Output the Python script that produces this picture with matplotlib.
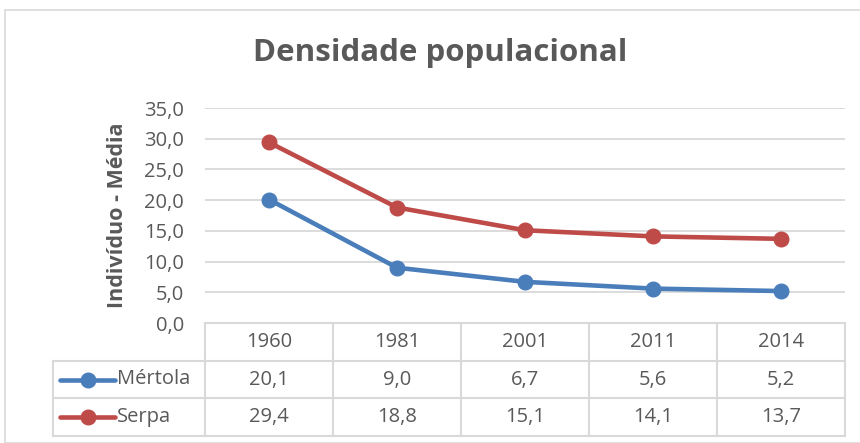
import matplotlib.pyplot as plt
from matplotlib.patches import Rectangle

plt.rcParams['font.family'] = ['Open Sans', 'DejaVu Sans']

years = ["1960", "1981", "2001", "2011", "2014"]
mertola = [20.1, 9.0, 6.7, 5.6, 5.2]
serpa = [29.4, 18.8, 15.1, 14.1, 13.7]
series = [("Mértola", mertola, "#4a7ebb"), ("Serpa", serpa, "#be4b48")]

W, H = 860, 443
grid_c = "#d9d9d9"
txt_c = "#595959"
fs = 14.5

fig = plt.figure(figsize=(W / 100, H / 100), dpi=100)

# outer chart border
fig.patches.append(Rectangle((5 / W, 0), 1, 1 - 10 / H, transform=fig.transFigure,
                             fill=False, edgecolor=grid_c, lw=1.2))

def fbox(x0, y0, x1, y1):
    return [x0 / W, 1 - y1 / H, (x1 - x0) / W, (y1 - y0) / H]

ax = fig.add_axes(fbox(205, 108, 845, 323))
x = list(range(len(years)))
for name, vals, col in series:
    ax.plot(x, vals, color=col, lw=3.3, marker="o", ms=10.5, solid_capstyle="round")
ax.set_xlim(-0.5, len(years) - 0.5)
ax.set_ylim(0, 35)
ax.set_yticks(range(0, 36, 5))
ax.set_yticklabels([f"{v:.1f}".replace(".", ",") for v in range(0, 36, 5)],
                   fontsize=fs, color=txt_c)
ax.tick_params(axis="y", length=0, pad=15)
ax.set_xticks([])
ax.grid(axis="y", color=grid_c, lw=1.3)
ax.set_axisbelow(True)
for s in ax.spines.values():
    s.set_visible(False)
ax.set_ylabel("Indivíduo - Média", fontsize=15.5, fontweight="bold", color=txt_c, labelpad=12)

fig.text(440 / W, 1 - 53 / H, "Densidade populacional", ha="center", va="center",
         fontsize=22.5, fontweight="bold", color=txt_c)

# data table
tx = fig.add_axes(fbox(53, 323, 845, 436))
left = -0.5 - 152 / 128
tx.set_xlim(left, len(years) - 0.5)
tx.set_ylim(3, 0)
tx.axis("off")
lkw = dict(color=grid_c, lw=1.5, clip_on=False)
tx.plot([-0.5, len(years) - 0.5], [0, 0], **lkw)
for r in [1, 2, 3]:
    tx.plot([left, len(years) - 0.5], [r, r], **lkw)
for i in range(len(years) + 1):
    tx.plot([i - 0.5, i - 0.5], [0, 3], **lkw)
tx.plot([left, left], [1, 3], **lkw)

for i, yr in enumerate(years):
    tx.text(i, 0.5, yr, ha="center", va="center", fontsize=fs, color=txt_c)
for r, (name, vals, col) in enumerate(series, start=1):
    for i, v in enumerate(vals):
        tx.text(i, r + 0.5, f"{v:.1f}".replace(".", ","), ha="center", va="center",
                fontsize=fs, color=txt_c)
    k0 = left + 7 / 128
    k1 = left + 62 / 128
    tx.plot([k0, k1], [r + 0.5, r + 0.5], color=col, lw=3.3, solid_capstyle="round", clip_on=False)
    tx.plot([(k0 + k1) / 2], [r + 0.5], "o", color=col, ms=10.5, clip_on=False)
    tx.text(left + 64 / 128, r + 0.5, name, ha="left", va="center", fontsize=fs, color=txt_c)

fig.savefig("out.png", dpi=100)
